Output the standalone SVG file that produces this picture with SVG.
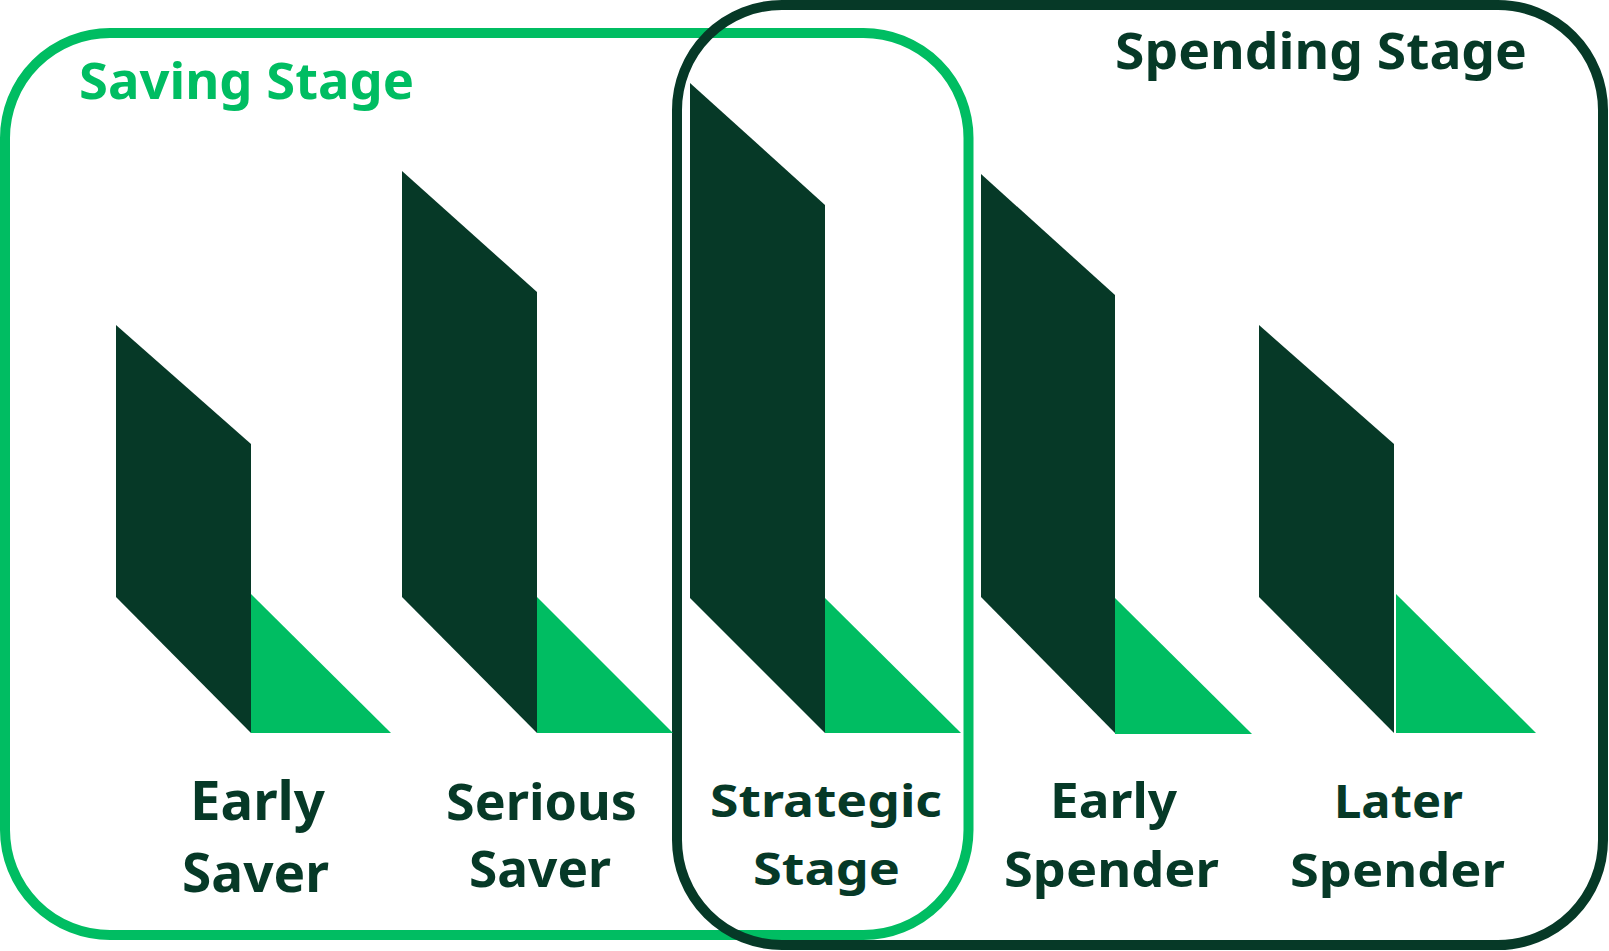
<svg xmlns="http://www.w3.org/2000/svg" width="1609" height="951" viewBox="0 0 1609 951">
<style>
.dark{fill:#063927}
.green{fill:#00BD62}
.lbl{font-family:"Noto Sans","Liberation Sans",sans-serif;font-weight:700;fill:#063927}
.title{font-family:"Noto Sans","Liberation Sans",sans-serif;font-weight:700;font-size:50px}
</style>
<rect width="1609" height="951" fill="#ffffff"/>
<g id="saving-stage">
<rect x="5" y="33" width="963.5" height="902" rx="105" ry="105" fill="none" stroke="#00BD62" stroke-width="10"/>
<text class="title" x="79" y="99" fill="#00BD62" textLength="335" lengthAdjust="spacingAndGlyphs">Saving Stage</text>
</g>
<g id="spending-stage">
<rect x="677" y="5" width="926" height="940" rx="105" ry="105" fill="none" stroke="#063927" stroke-width="10"/>
<text class="title" x="1115" y="69" fill="#063927" textLength="412" lengthAdjust="spacingAndGlyphs">Spending Stage</text>
</g>
<g id="early-saver">
<polygon class="dark" points="116,325 251,444 251,733 116,597"/>
<polygon class="green" points="251,594 251,733 391,733"/>
<text class="lbl" font-size="53" x="190" y="820" textLength="135" lengthAdjust="spacingAndGlyphs">Early</text>
<text class="lbl" font-size="53" x="182" y="892" textLength="147" lengthAdjust="spacingAndGlyphs">Saver</text>
</g>
<g id="serious-saver">
<polygon class="dark" points="402,171 537,292 537,733 402,597"/>
<polygon class="green" points="537,597 537,733 673,733"/>
<text class="lbl" font-size="51" x="446" y="820" textLength="191" lengthAdjust="spacingAndGlyphs">Serious</text>
<text class="lbl" font-size="51" x="469" y="887" textLength="142" lengthAdjust="spacingAndGlyphs">Saver</text>
</g>
<g id="strategic-stage">
<polygon class="dark" points="690,83 825,205 825,733 690,598"/>
<polygon class="green" points="825,598 825,733 961,733"/>
<text class="lbl" font-size="44" x="710" y="817" textLength="232" lengthAdjust="spacingAndGlyphs">Strategic</text>
<text class="lbl" font-size="44" x="753" y="885" textLength="147" lengthAdjust="spacingAndGlyphs">Stage</text>
</g>
<g id="early-spender">
<polygon class="dark" points="981,174 1115,295 1115,733 981,597"/>
<polygon class="green" points="1115,598 1115,734 1252,734"/>
<text class="lbl" font-size="49" x="1050" y="818" textLength="127" lengthAdjust="spacingAndGlyphs">Early</text>
<text class="lbl" font-size="49" x="1004" y="887" textLength="215" lengthAdjust="spacingAndGlyphs">Spender</text>
</g>
<g id="later-spender">
<polygon class="dark" points="1259,325 1394,444 1394,733 1259,597"/>
<polygon class="green" points="1396,594 1396,733 1536,733"/>
<text class="lbl" font-size="47" x="1334" y="818" textLength="129" lengthAdjust="spacingAndGlyphs">Later</text>
<text class="lbl" font-size="47" x="1290" y="887" textLength="215" lengthAdjust="spacingAndGlyphs">Spender</text>
</g>
<g id="connectors"></g>
</svg>
